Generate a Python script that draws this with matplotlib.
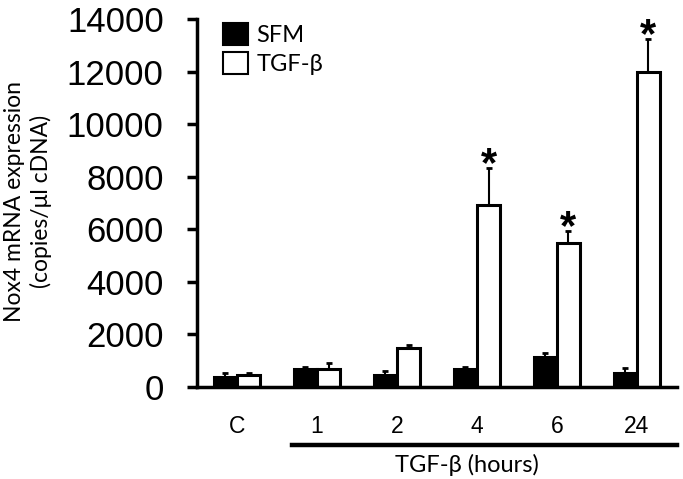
import numpy as np
import matplotlib
matplotlib.use('Agg')
from matplotlib import pyplot as plt
from matplotlib.patches import Patch

groups = ['C', '1', '2', '4', '6', '24']
sfm = [390, 670, 455, 700, 1130, 545]
sfm_err = [150, 100, 165, 75, 150, 165]
tgf = [445, 670, 1480, 6920, 5490, 11980]
tgf_err = [100, 230, 130, 1420, 460, 1260]
stars = [False, False, False, True, True, True]

fig = plt.figure(figsize=(6.83, 4.79), dpi=100)
ax = fig.add_axes([0.2884, 0.1921, 0.7026, 0.7682])

x = np.arange(len(groups))
w = 0.29
ax.bar(x - w/2, sfm, w, color='black', edgecolor='black', linewidth=2.2,
       yerr=[np.zeros(len(sfm)), sfm_err], error_kw=dict(ecolor='black', elinewidth=1.5, capsize=2, capthick=2))
ax.bar(x + w/2, tgf, w, color='white', edgecolor='black', linewidth=2.2,
       yerr=[np.zeros(len(tgf)), tgf_err], error_kw=dict(ecolor='black', elinewidth=1.5, capsize=2, capthick=2))

for i in range(len(groups)):
    if stars[i]:
        ax.annotate('*', (x[i] + w/2, tgf[i] + tgf_err[i]), xytext=(0, -6), textcoords='offset points',
                    ha='center', va='baseline', fontsize=30, fontweight='bold', family='Liberation Sans')

ax.set_xlim(-0.5, 5.5)
ax.set_ylim(0, 14000)
ax.set_yticks(np.arange(0, 14001, 2000))
ax.set_yticklabels([str(v) for v in range(0, 14001, 2000)], family='Liberation Sans', fontsize=25)
ax.set_xticks(x)
ax.set_xticklabels(groups, family='Liberation Sans', fontsize=16.5)
ax.tick_params(axis='x', length=0, pad=20)
ax.tick_params(axis='y', length=7, width=2.5, pad=17)
for s in ['top', 'right']:
    ax.spines[s].set_visible(False)
for s in ['left', 'bottom']:
    ax.spines[s].set_linewidth(2.5)

ax.set_ylabel('Nox4 mRNA expression\n(copies/\u03bcl cDNA)', family='Lato', fontsize=16.5, linespacing=1.25)
ax.yaxis.set_label_coords(-0.303, 0.504)

ax.legend(handles=[Patch(facecolor='black', edgecolor='black', linewidth=1.5, label='SFM'),
                   Patch(facecolor='white', edgecolor='black', linewidth=1.5, label='TGF-\u03b2')],
          loc='upper left', bbox_to_anchor=(0.03, 1.022), frameon=False, borderpad=0,
          prop={'family': 'Lato', 'size': 17},
          handlelength=1.05, handleheight=1.05, handletextpad=0.35, labelspacing=0.25)

fig.add_artist(plt.Line2D([292/683, 677/683], [1 - 444.5/479, 1 - 444.5/479], color='black', linewidth=3.2))
fig.text(467/683, 1 - 465/479, 'TGF-\u03b2 (hours)', ha='center', va='center', family='Lato', fontsize=17)

fig.savefig('out.png', dpi=100)
